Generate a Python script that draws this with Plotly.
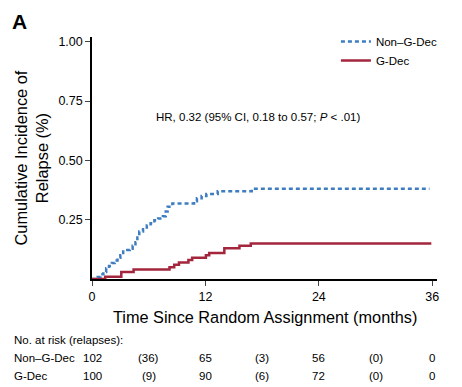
import plotly.graph_objects as go

# ---- data ----
nongdec_t = [0, 0.6, 0.9, 1.2, 1.5, 1.8, 2.1, 2.4, 2.7, 3.0, 3.3, 4.0, 4.3, 4.6, 4.8, 5.0, 5.4, 5.8,
             6.2, 6.6, 7.0, 7.5, 7.8, 8.0, 8.5, 10.8, 11.1, 11.6, 12.1, 13.3, 16.9, 35.7]
nongdec_v = [0, 0.008, 0.02, 0.03, 0.045, 0.055, 0.067, 0.078, 0.09, 0.10, 0.122, 0.128, 0.14, 0.155,
             0.175, 0.20, 0.21, 0.225, 0.235, 0.248, 0.255, 0.265, 0.285, 0.305, 0.318, 0.328, 0.34,
             0.35, 0.358, 0.37, 0.38, 0.38]

gdec_t = [0, 1.4, 3.1, 4.4, 8.2, 8.7, 9.2, 10.2, 10.6, 12.05, 12.4, 14.0, 15.6, 16.8, 35.9]
gdec_v = [0, 0.01, 0.03, 0.04, 0.05, 0.06, 0.07, 0.08, 0.09, 0.10, 0.11, 0.13, 0.14, 0.15, 0.15]

x_ticks = [0, 12, 24, 36]
y_ticks = [0.25, 0.50, 0.75, 1.00]
y_tick_labels = ["0.25", "0.50", "0.75", "1.00"]

risk_times = [0, 6, 12, 18, 24, 30, 36]
risk_nongdec = ["102", "(36)", "65", "(3)", "56", "(0)", "0"]
risk_gdec = ["100", "(9)", "90", "(6)", "72", "(0)", "0"]

BLUE = "#3d7dc0"
RED = "#a3263c"
FONT = "Liberation Sans, Arial, sans-serif"

# page has an 8px body margin, so the figure is 8px smaller than the window
W, H = 454, 379
ML, MR, MT, MB = 84, 25, 29, 108
PW, PH = W - ML - MR, H - MT - MB

fig = go.Figure()
fig.add_trace(go.Scatter(x=nongdec_t, y=nongdec_v, mode="lines", name="Non\u2013G-Dec",
                         line=dict(color=BLUE, width=2.5, dash="4px,3px", shape="hv")))
fig.add_trace(go.Scatter(x=gdec_t, y=gdec_v, mode="lines", name="G-Dec",
                         line=dict(color=RED, width=2.5, shape="hv")))

fig.update_layout(
    width=W, height=H,
    margin=dict(l=ML, r=MR, t=MT, b=MB),
    paper_bgcolor="white", plot_bgcolor="white",
    font=dict(family=FONT, size=12, color="black"),
    showlegend=True,
    legend=dict(x=0.707, y=1 + (MT - 19) / PH, xanchor="left", yanchor="top",
                bgcolor="rgba(0,0,0,0)", font=dict(size=11.5), itemwidth=30, tracegroupgap=0),
    xaxis=dict(range=[0, 36.5], tickvals=x_ticks, ticks="outside", ticklen=5, tickwidth=1,
               showline=True, linecolor="black", linewidth=1.5, showgrid=False, zeroline=False,
               tickfont=dict(size=12.5)),
    yaxis=dict(range=[0, 1.02], tickvals=y_ticks, ticktext=y_tick_labels, ticks="outside",
               ticklen=5, tickwidth=1, showline=True, linecolor="black", linewidth=1.5,
               showgrid=False, zeroline=False, tickfont=dict(size=12.5)),
)

ann = []
ann.append(dict(text="<b>A</b>", xref="paper", yref="paper", x=-ML / PW, y=1 + MT / PH,
                xshift=2, yshift=0, xanchor="left", yanchor="top", showarrow=False,
                font=dict(size=21, family=FONT)))
ann.append(dict(text="Time Since Random Assignment (months)", xref="paper", yref="paper",
                x=(265 - 92) / PW, y=0, yshift=-38, xanchor="center", yanchor="middle",
                showarrow=False, font=dict(size=16.3, family=FONT)))
ann.append(dict(text="Cumulative Incidence of<br>Relapse (%)", xref="paper", yref="paper",
                x=0, y=0.5, xshift=-61.5, xanchor="center", yanchor="middle", textangle=-90,
                showarrow=False, font=dict(size=16.4, family=FONT)))
ann.append(dict(text="HR, 0.32 (95% CI, 0.18 to 0.57; <i>P</i> &lt; .01)", xref="x", yref="y",
                x=17.6, y=0.684, xanchor="center", yanchor="middle", showarrow=False,
                font=dict(size=11.5)))
# risk table
ann.append(dict(text="No. at risk (relapses):", xref="paper", yref="paper", x=-80 / PW, y=0,
                yshift=-61, xanchor="left", yanchor="middle", showarrow=False, font=dict(size=11.5)))
for label, row, ys in [("Non\u2013G-Dec", risk_nongdec, -79), ("G-Dec", risk_gdec, -97)]:
    ann.append(dict(text=label, xref="paper", yref="paper", x=-80 / PW, y=0, yshift=ys,
                    xanchor="left", yanchor="middle", showarrow=False, font=dict(size=11.5)))
    for t, v in zip(risk_times, row):
        ann.append(dict(text=v, xref="x", yref="paper", x=t, y=0, yshift=ys,
                        xanchor="center", yanchor="middle", showarrow=False, font=dict(size=11.5)))
fig.update_layout(annotations=ann)

fig.write_html("out.html")
